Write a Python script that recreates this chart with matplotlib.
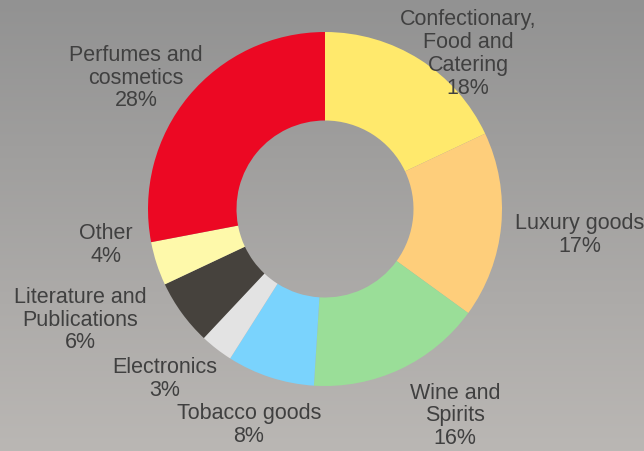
import numpy as np
import matplotlib
matplotlib.use("Agg")
import matplotlib.pyplot as plt
from matplotlib.colors import LinearSegmentedColormap

categories = ["Confectionary,\nFood and\nCatering", "Luxury goods", "Wine and\nSpirits",
              "Tobacco goods", "Electronics", "Literature and\nPublications", "Other",
              "Perfumes and\ncosmetics"]
shares = [18, 17, 16, 8, 3, 6, 4, 28]
colors = ["#FFE96C", "#FECE7B", "#9ADE98", "#7AD3FD", "#E3E3E3", "#46423D", "#FEF9AA", "#EC0823"]

# label anchor points (pixel space, y measured from top)
label_xy = [(468, 54), (580, 235), (455, 416), (249, 425), (165, 379), (80, 320),
            (106, 245), (136, 78)]

W, H = 644, 452
fig = plt.figure(figsize=(W / 100, H / 100), dpi=100)
ax = fig.add_axes([0, 0, 1, 1])

# vertical grey gradient background
grad = LinearSegmentedColormap.from_list("bg", ["#BAB7B4", "#929292"])
ax.imshow(np.linspace(0, 1, 256).reshape(-1, 1), cmap=grad, aspect="auto",
          extent=(0, W, 0, H), origin="lower", zorder=0)

cx, cy, r = 325, H - 210, 177
wedges, _ = ax.pie(shares, colors=colors, startangle=90, counterclock=False,
                   center=(cx, cy), radius=r, frame=True,
                   wedgeprops=dict(width=r * 0.5, linewidth=0))
for w in wedges:
    w.set_zorder(2)
ax.set_xlim(0, W)
ax.set_ylim(0, H)
ax.set_aspect("auto")
ax.axis("off")

for name, val, (x, y) in zip(categories, shares, label_xy):
    ax.text(x, H - y, f"{name}\n{val}%", ha="center", va="center",
            fontsize=15.5, color="#404040", family="Liberation Sans",
            linespacing=1.12, zorder=3)

fig.savefig("out.png", dpi=100)
